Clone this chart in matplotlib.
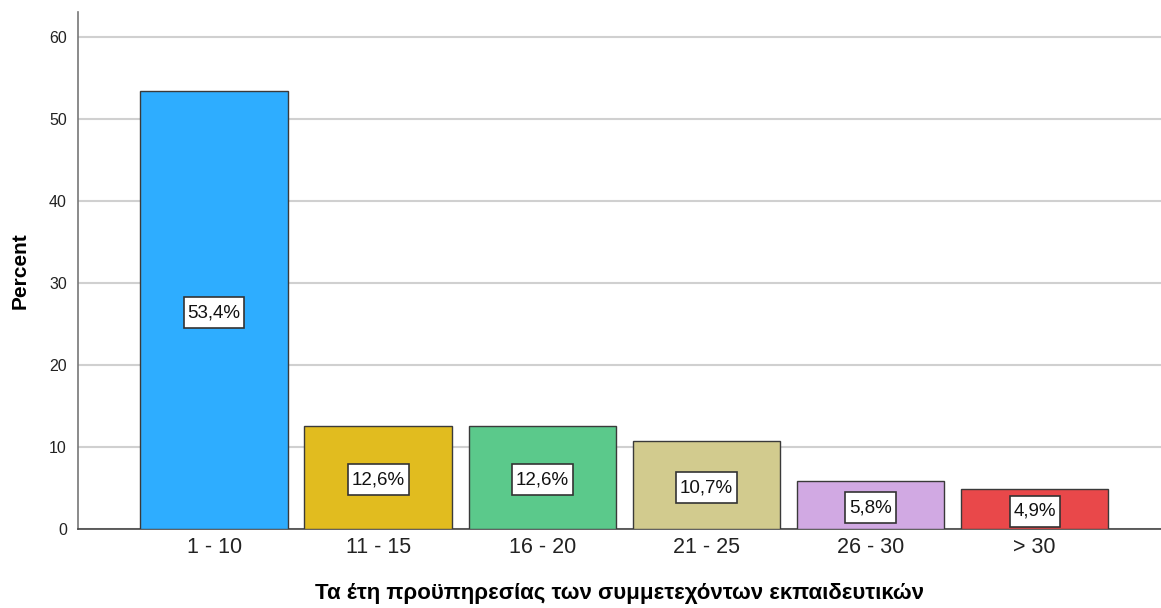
import matplotlib
matplotlib.use("Agg")
import matplotlib.pyplot as plt
from matplotlib.path import Path

categories = ["1 - 10", "11 - 15", "16 - 20", "21 - 25", "26 - 30", "> 30"]
percents = [53.4, 12.6, 12.6, 10.7, 5.8, 4.9]
labels = ["53,4%", "12,6%", "12,6%", "10,7%", "5,8%", "4,9%"]
colors = ["#2EADFF", "#E1BC1F", "#5BC98B", "#D2CB8E", "#D1A9E3", "#E9484A"]
yticks = [0, 10, 20, 30, 40, 50, 60]

plt.rcParams['font.family'] = ['Liberation Sans', 'DejaVu Sans']


def label_box(x0, y0, width, height, mutation_size):
    padx = 0.2 * mutation_size
    pady = 0.38 * mutation_size
    xa, ya = x0 - padx, y0 - pady
    xb, yb = x0 + width + padx, y0 + height + pady
    return Path([(xa, ya), (xb, ya), (xb, yb), (xa, yb), (xa, ya)], closed=True)


fig = plt.figure(figsize=(11.61, 6.08), dpi=100)
ax = fig.add_axes([78/1161, 1-529/608, 1-78/1161, (529-12)/608])

x = list(range(len(categories)))
ax.bar(x, percents, width=0.9, color=colors, edgecolor="#3a3a3a", linewidth=1.0, zorder=3)
for xi, v, lab in zip(x, percents, labels):
    ax.text(xi, v/2 - 0.3, lab, ha="center", va="center", fontsize=13.5, zorder=4,
            color="#111111",
            bbox=dict(boxstyle=label_box, facecolor="white", edgecolor="#333333", linewidth=1.2))

ax.set_xlim(-0.83, 5.77)
ax.set_ylim(0, 63.05)
ax.set_yticks(yticks)
ax.set_xticks(x)
ax.set_xticklabels(categories, fontsize=15.5, color="#222222")
ax.tick_params(axis="y", labelsize=11.5, length=0, pad=8, colors="#222222")
ax.tick_params(axis="x", length=0, pad=6)
ax.yaxis.grid(True, color="#d0d0d0", linewidth=1.5, zorder=0)
ax.set_axisbelow(True)
for s in ["top", "right"]:
    ax.spines[s].set_visible(False)
ax.spines["left"].set_color("#777777")
ax.spines["left"].set_linewidth(1.2)
ax.spines["bottom"].set_color("#444444")
ax.spines["bottom"].set_linewidth(1.2)

ax.set_ylabel("Percent", fontsize=15, fontweight="bold", labelpad=14)
ax.set_xlabel("Τα έτη προϋπηρεσίας των συμμετεχόντων εκπαιδευτικών", fontsize=16,
              fontweight="bold")
ax.xaxis.set_label_coords(0.5, -(583-529)/(529-12))

fig.savefig("out.png", dpi=100)
